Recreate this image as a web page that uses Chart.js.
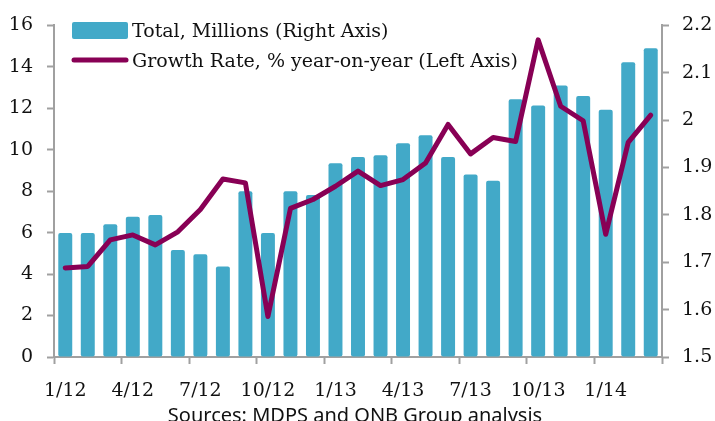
<!DOCTYPE html>
<html>
<head>
<meta charset="utf-8">
<script src="https://cdn.jsdelivr.net/npm/chart.js@4"></script>
<style>
    html, body { margin: 0; padding: 0; background: #fff; }
    #wrap { width: 715px; height: 421px; position: relative; }
</style>
</head>
<body>
<div id="wrap"><canvas id="qnbChart" width="715" height="421"></canvas></div>
<script>
// Months Jan 2012 - Mar 2014
var months = ['1/12', '2/12', '3/12', '4/12', '5/12', '6/12', '7/12', '8/12', '9/12',
    '10/12', '11/12', '12/12', '1/13', '2/13', '3/13', '4/13', '5/13', '6/13',
    '7/13', '8/13', '9/13', '10/13', '11/13', '12/13', '1/14', '2/14', '3/14'];

// Total, millions (right axis)
var totalMillions = [1.762, 1.762, 1.780, 1.796, 1.800, 1.726, 1.717, 1.691, 1.850,
    1.762, 1.850, 1.842, 1.909, 1.922, 1.926, 1.951, 1.968, 1.922,
    1.885, 1.872, 2.044, 2.031, 2.073, 2.051, 2.022, 2.122, 2.152];

// Growth rate, % year-on-year (left axis)
var growthRate = [4.3, 4.37, 5.65, 5.89, 5.41, 6.04, 7.12, 8.59, 8.40,
    1.95, 7.17, 7.60, 8.24, 8.97, 8.27, 8.56, 9.36, 11.22,
    9.80, 10.59, 10.40, 15.30, 12.10, 11.40, 5.92, 10.36, 11.67];

var leftTicks = [0, 16, 2];      // min, max, step
var rightTicks = [1.5, 2.2, 0.1];

var barColor = '#42a9c8';
var lineColor = '#880055';
var axisColor = '#a0a0a0';
var fontFamily = '"DejaVu Serif", serif';

// draws the legend in the top-left and the source note
var notesPlugin = {
    id: 'notes',
    afterDraw: function (chart) {
        var c = chart.ctx;
        c.save();
        c.font = '19px ' + fontFamily;
        c.textBaseline = 'alphabetic';
        c.textAlign = 'left';

        // bar swatch
        c.fillStyle = barColor;
        c.beginPath();
        c.roundRect(72, 22, 56, 17, 2);
        c.fill();
        c.fillStyle = '#111';
        c.fillText(chart.data.datasets[1].label, 132, 37);

        // line swatch
        c.strokeStyle = lineColor;
        c.lineWidth = 5;
        c.lineCap = 'round';
        c.beginPath();
        c.moveTo(74, 60);
        c.lineTo(126, 60);
        c.stroke();
        c.fillText(chart.data.datasets[0].label, 132, 67);

        // source
        c.font = '20px "Noto Sans", sans-serif';
        c.textAlign = 'center';
        c.fillText('Sources: MDPS and QNB Group analysis', 355, 422);
        c.restore();
    }
};

var ctx = document.getElementById('qnbChart').getContext('2d');

new Chart(ctx, {
    data: {
        labels: months,
        datasets: [{
            type: 'line',
            label: 'Growth Rate, % year-on-year (Left Axis)',
            data: growthRate,
            yAxisID: 'yLeft',
            borderColor: lineColor,
            borderWidth: 5,
            borderJoinStyle: 'round',
            borderCapStyle: 'round',
            pointRadius: 0,
            tension: 0,
            order: 0
        }, {
            type: 'bar',
            label: 'Total, Millions (Right Axis)',
            data: totalMillions,
            yAxisID: 'yRight',
            backgroundColor: barColor,
            borderRadius: 2,
            borderSkipped: false,
            categoryPercentage: 1,
            barPercentage: 0.62,
            base: rightTicks[0],
            order: 1
        }]
    },
    options: {
        responsive: false,
        animation: false,
        layout: { padding: { top: 23, left: 0, right: 0, bottom: 0 } },
        plugins: {
            legend: { display: false },
            tooltip: { enabled: false }
        },
        scales: {
            x: {
                offset: true,
                grid: {
                    offset: true,
                    drawOnChartArea: false,
                    drawTicks: true,
                    tickLength: 7,
                    tickWidth: 2,
                    color: function (context) {
                        if (context.index === undefined) return axisColor;
                        return context.index % 3 === 0 ? axisColor : 'rgba(0,0,0,0)';
                    }
                },
                border: { display: true, color: axisColor, width: 2 },
                ticks: {
                    autoSkip: false,
                    maxRotation: 0,
                    padding: 16,
                    color: '#111',
                    font: { family: fontFamily, size: 19 },
                    callback: function (value, index) {
                        return index % 3 === 0 ? months[index] : '';
                    }
                },
                afterFit: function (scale) { scale.height = 64; }
            },
            yLeft: {
                position: 'left',
                min: leftTicks[0],
                max: leftTicks[1],
                grid: {
                    drawOnChartArea: false,
                    tickLength: 7,
                    tickWidth: 2,
                    color: axisColor
                },
                border: { display: true, color: axisColor, width: 2 },
                ticks: {
                    stepSize: leftTicks[2],
                    padding: 14,
                    color: '#111',
                    font: { family: fontFamily, size: 19 }
                },
                afterFit: function (scale) { scale.width = 54; }
            },
            yRight: {
                position: 'right',
                min: rightTicks[0],
                max: rightTicks[1],
                grid: {
                    drawOnChartArea: false,
                    tickLength: 7,
                    tickWidth: 2,
                    color: axisColor
                },
                border: { display: true, color: axisColor, width: 2 },
                ticks: {
                    stepSize: rightTicks[2],
                    padding: 13,
                    color: '#111',
                    font: { family: fontFamily, size: 19 },
                    callback: function (value) {
                        return String(parseFloat(value.toFixed(1)));
                    }
                },
                afterFit: function (scale) { scale.width = 53; }
            }
        }
    },
    plugins: [notesPlugin]
});
</script>
</body>
</html>
